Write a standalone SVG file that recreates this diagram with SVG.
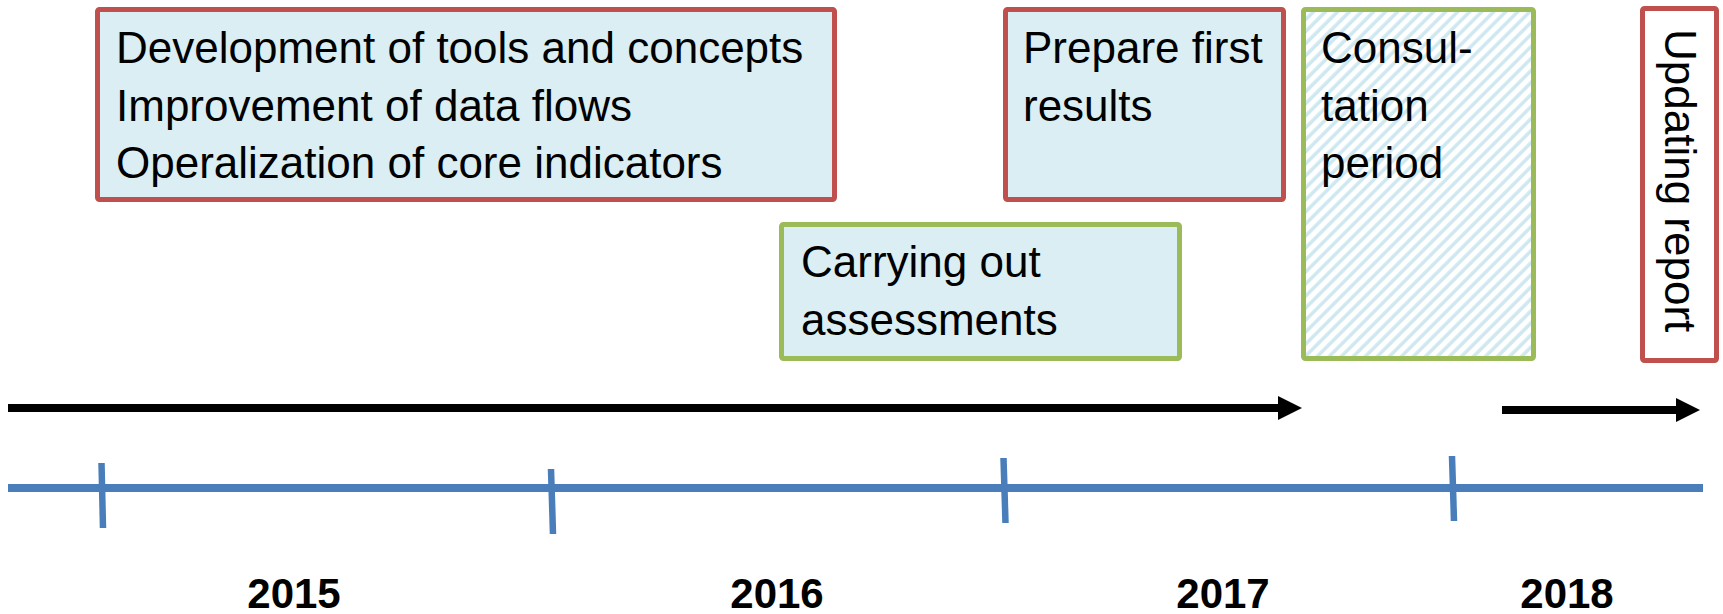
<svg xmlns="http://www.w3.org/2000/svg" width="1723" height="614" viewBox="0 0 1723 614">
  <style>
    .box { fill: #DAEEF3; stroke-width: 5; }
    .red { stroke: #C0504D; }
    .green { stroke: #9BBB59; }
    .lbl { font-family: "Liberation Sans", Arial, sans-serif; font-size: 44px; fill: #000; }
    .year { font-family: "Liberation Sans", Arial, sans-serif; font-size: 42px; font-weight: bold; fill: #000; text-anchor: middle; }
    .axis { stroke: #4A7EBB; stroke-width: 8; fill: none; }
    .tick { stroke: #4A7EBB; stroke-width: 6.5; fill: none; }
    .arrow { stroke: #000; stroke-width: 8; fill: none; marker-end: url(#head); }
  </style>
  <defs>
    <pattern id="hatch" patternUnits="userSpaceOnUse" width="8.5" height="8.5" patternTransform="rotate(45)">
      <rect width="8.5" height="8.5" fill="#FFFFFF"/>
      <line x1="2" y1="0" x2="2" y2="8.5" stroke="#CFE8F0" stroke-width="3.5"/>
    </pattern>
    <marker id="head" markerUnits="userSpaceOnUse" markerWidth="24" markerHeight="24" refX="0" refY="12" orient="auto">
      <path d="M0,0 L24,12 L0,24 Z" fill="#000"/>
    </marker>
  </defs>
  <rect width="1723" height="614" fill="#FFFFFF"/>

  <g id="node-development">
    <rect class="box red" x="97.5" y="9.5" width="737" height="190" rx="2"/>
    <text class="lbl" x="116" y="63">Development of tools and concepts</text>
    <text class="lbl" x="116" y="121">Improvement of data flows</text>
    <text class="lbl" x="116" y="178">Operalization of core indicators</text>
  </g>

  <g id="node-prepare">
    <rect class="box red" x="1005.5" y="9.5" width="278" height="190" rx="2"/>
    <text class="lbl" x="1023" y="63">Prepare first</text>
    <text class="lbl" x="1023" y="121">results</text>
  </g>

  <g id="node-carrying">
    <rect class="box green" x="781.5" y="224.5" width="398" height="134" rx="2"/>
    <text class="lbl" x="801" y="277">Carrying out</text>
    <text class="lbl" x="801" y="335">assessments</text>
  </g>

  <g id="node-consultation">
    <rect class="green" x="1303.5" y="9.5" width="230" height="349" rx="2" fill="url(#hatch)" stroke-width="5"/>
    <text class="lbl" x="1321" y="63">Consul-</text>
    <text class="lbl" x="1321" y="121">tation</text>
    <text class="lbl" x="1321" y="178">period</text>
  </g>

  <g id="node-updating">
    <rect class="red" x="1642.5" y="8.5" width="74" height="352" rx="2" fill="#FFFFFF" stroke-width="5"/>
    <text class="lbl" transform="translate(1665,29) rotate(90)" x="0" y="0">Updating report</text>
  </g>

  <g id="connectors">
    <line class="arrow" x1="8" y1="408" x2="1278" y2="408"/>
    <line class="arrow" x1="1502" y1="410" x2="1676" y2="410"/>
    <line class="axis" x1="8" y1="488" x2="1703" y2="488"/>
    <line class="tick" x1="101.5" y1="463" x2="103" y2="528"/>
    <line class="tick" x1="551" y1="469" x2="553" y2="534"/>
    <line class="tick" x1="1003.5" y1="458" x2="1005.5" y2="523"/>
    <line class="tick" x1="1452" y1="456" x2="1454" y2="521"/>
  </g>

  <g id="years">
    <text class="year" x="294" y="608">2015</text>
    <text class="year" x="777" y="608">2016</text>
    <text class="year" x="1223" y="608">2017</text>
    <text class="year" x="1567" y="608">2018</text>
  </g>
</svg>
